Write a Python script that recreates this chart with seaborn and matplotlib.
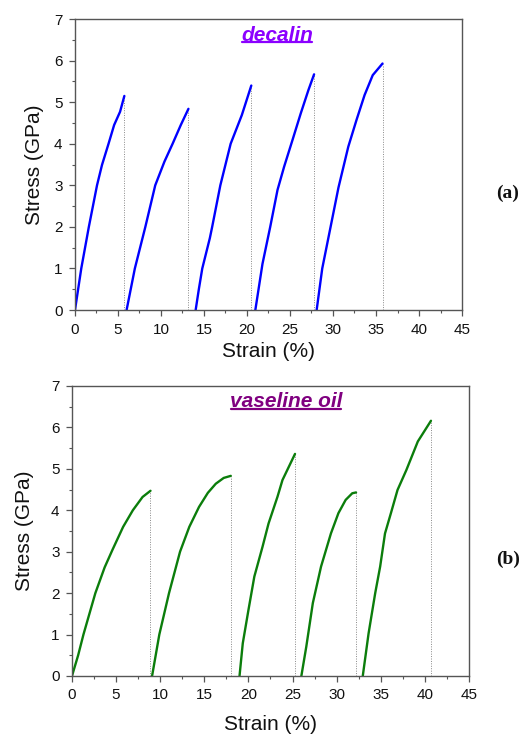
import numpy as np
import pandas as pd
import matplotlib
matplotlib.use("Agg")
import matplotlib.pyplot as plt
import seaborn as sns
from matplotlib.ticker import MultipleLocator
from matplotlib.lines import Line2D

# ---- data ----
# decalin: 5 loading cycles
dec_strain = [
    [0.0, 0.73, 1.61, 2.56, 3.14, 3.9, 4.55, 5.24, 5.74],
    [6.0, 6.96, 8.18, 9.33, 10.4, 11.35, 12.3, 13.19],
    [14.03, 14.4, 14.8, 15.68, 15.95, 16.9, 18.1, 19.4, 20.5],
    [20.97, 21.8, 22.7, 23.55, 24.32, 25.29, 26.25, 27.14, 27.8],
    [28.1, 28.75, 29.7, 30.64, 31.78, 32.73, 33.67, 34.62, 35.76],
]
dec_stress = [
    [0.0, 1.0, 2.0, 3.0, 3.49, 4.0, 4.45, 4.77, 5.15],
    [0.0, 1.0, 2.0, 3.0, 3.57, 4.0, 4.45, 4.84],
    [0.0, 0.5, 1.0, 1.73, 2.0, 3.0, 4.0, 4.69, 5.4],
    [0.0, 1.11, 2.0, 2.89, 3.45, 4.09, 4.73, 5.29, 5.67],
    [0.0, 1.0, 1.98, 2.95, 3.93, 4.57, 5.17, 5.65, 5.93],
]
# vaseline oil: 5 loading cycles
vas_strain = [
    [0.0, 0.7, 1.3, 2.65, 3.7, 4.6, 5.8, 6.9, 8.0, 8.9],
    [9.08, 9.9, 11.0, 12.25, 13.3, 14.4, 15.4, 16.3, 17.2, 18.0],
    [18.99, 19.36, 20.0, 20.67, 21.6, 22.28, 23.3, 23.86, 25.28],
    [26.0, 26.56, 27.3, 28.23, 29.35, 30.2, 31.02, 31.77, 32.2],
    [32.96, 33.62, 34.37, 34.93, 35.48, 36.15, 36.9, 37.9, 39.2, 40.69],
]
vas_stress = [
    [0.0, 0.5, 1.0, 2.0, 2.62, 3.05, 3.6, 4.0, 4.32, 4.47],
    [0.0, 1.0, 2.0, 3.0, 3.6, 4.08, 4.42, 4.64, 4.78, 4.83],
    [0.0, 0.79, 1.59, 2.4, 3.12, 3.68, 4.33, 4.73, 5.36],
    [0.0, 0.71, 1.76, 2.64, 3.44, 3.93, 4.25, 4.41, 4.43],
    [0.0, 1.03, 2.0, 2.64, 3.44, 3.93, 4.49, 4.97, 5.66, 6.16],
]
x_ticks = [0, 5, 10, 15, 20, 25, 30, 35, 40, 45]
y_ticks = [0, 1, 2, 3, 4, 5, 6, 7]
titles = ["decalin", "vaseline oil"]
panel_labels = ["(a)", "(b)"]


def to_df(strains, stresses):
    rows = []
    for i, (xs, ys) in enumerate(zip(strains, stresses)):
        for x, y in zip(xs, ys):
            rows.append({"strain": x, "stress": y, "cycle": i})
    return pd.DataFrame(rows)


sns.set_style("ticks")
plt.rcParams["font.family"] = ["Liberation Sans", "DejaVu Sans"]

fig = plt.figure(figsize=(5.3, 7.35), dpi=100)
ax1 = fig.add_axes([0.1415, 0.5782, 0.7302, 0.3959])
ax2 = fig.add_axes([0.1358, 0.0803, 0.7491, 0.3946])

spine_c = "#555555"
configs = [
    # ax, strains, stresses, line colour, title colour, title x, ylabelpad, xlabelpad, label y(px)
    (ax1, dec_strain, dec_stress, "#0000ff", "#8b00ff", 0.522, 7, 4, 193),
    (ax2, vas_strain, vas_stress, "#0b7d0b", "#800080", 0.539, 12, 9, 559),
]

title_texts = []
for k, (ax, sx, sy, lc, tc, tx, ylp, xlp, lab_y) in enumerate(configs):
    df = to_df(sx, sy)
    sns.lineplot(data=df, x="strain", y="stress", units="cycle",
                 estimator=None, sort=False, color=lc, lw=1.7, ax=ax)
    for xs, ys in zip(sx, sy):
        ax.plot([xs[-1], xs[-1]], [0, ys[-1]], ls=(0, (1, 1.5)),
                color="#888888", lw=0.7, zorder=1)
    ax.set_xlim(0, 45)
    ax.set_ylim(0, 7)
    ax.set_xticks(x_ticks)
    ax.set_yticks(y_ticks)
    ax.xaxis.set_minor_locator(MultipleLocator(2.5))
    ax.yaxis.set_minor_locator(MultipleLocator(0.5))
    ax.tick_params(which="major", direction="out", length=4, width=0.9,
                   color=spine_c, labelsize=11, pad=5, labelcolor="#111111")
    ax.tick_params(which="minor", direction="out", length=2.5, width=0.8,
                   color=spine_c)
    for s in ax.spines.values():
        s.set_visible(True)
        s.set_color(spine_c)
        s.set_linewidth(1.0)
    ax.set_xlabel("Strain (%)", fontsize=15, labelpad=xlp, color="#111111")
    ax.set_ylabel("Stress (GPa)", fontsize=15, labelpad=ylp, color="#111111")
    t = ax.text(tx, 0.945, titles[k], transform=ax.transAxes,
                ha="center", va="center", fontsize=15, fontweight="bold",
                fontstyle="italic", color=tc)
    title_texts.append((ax, t, tc))
    fig.text(0.958, 1 - lab_y / 735, panel_labels[k],
             ha="center", va="center", fontsize=14, fontweight="bold",
             family=["Liberation Serif", "DejaVu Serif"], color="#111111")

# underline the titles
fig.canvas.draw()
renderer = fig.canvas.get_renderer()
for ax, t, tc in title_texts:
    bb = t.get_window_extent(renderer=renderer)
    inv = fig.transFigure.inverted()
    (x0, y0), (x1, y1) = inv.transform([(bb.x0, bb.y0), (bb.x1, bb.y1)])
    fig.add_artist(Line2D([x0 + 0.002, x1 - 0.002], [y0 + 0.003, y0 + 0.003],
                          color=tc, lw=1.6, transform=fig.transFigure))

fig.savefig("out.png", dpi=100, facecolor="white")
